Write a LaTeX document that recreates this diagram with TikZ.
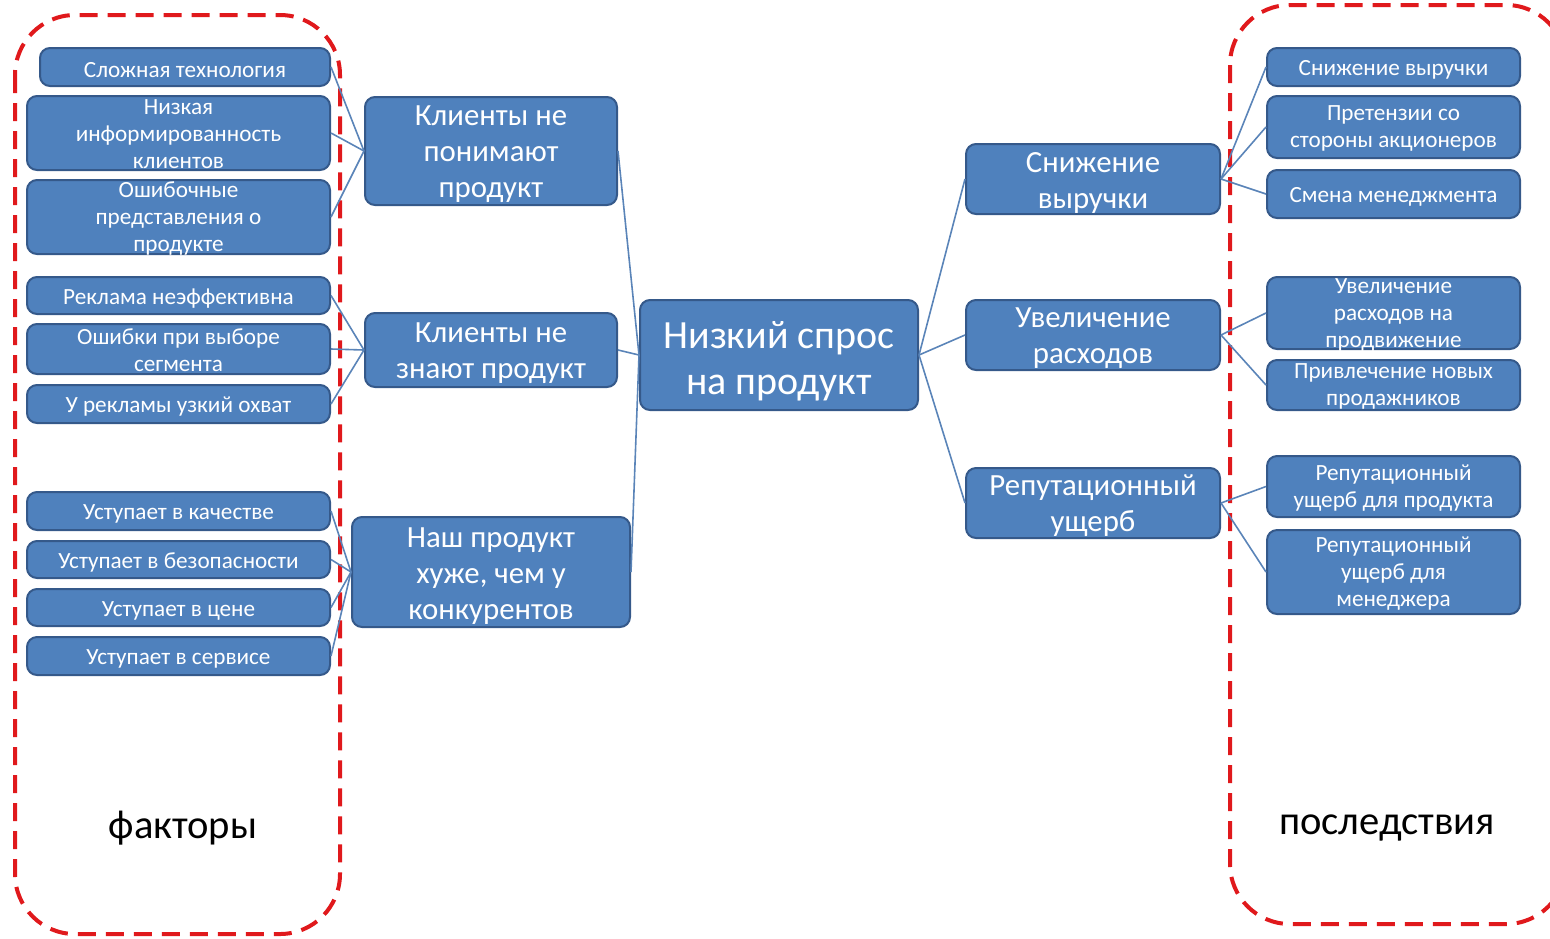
\documentclass[tikz,border=0pt]{standalone}
\usepackage{fontspec}
\setmainfont{Carlito}
\definecolor{boxfill}{HTML}{4F81BD}
\definecolor{boxline}{HTML}{35598A}
\definecolor{linkc}{HTML}{5A84B8}
\definecolor{framered}{HTML}{E0191C}
\newcommand\sts{\rule{0pt}{10.7pt}}
\newcommand\stt{\rule{0pt}{9pt}}
\newcommand\stm{\rule{0pt}{13.5pt}}
\newcommand\stb{\rule{0pt}{19.5pt}}
\tikzset{
  blk/.style={draw=boxline, fill=boxfill, rounded corners=5pt, line width=1pt, text=white, align=center, inner xsep=0pt, inner ysep=-8pt},
  sm/.style={blk, font=\fontsize{11.6}{13.5}\selectfont},
  md/.style={blk, font=\fontsize{15.4}{18}\selectfont},
  big/.style={blk, font=\fontsize{20}{23}\selectfont},
  sz/.style 2 args={minimum width=#1*0.5pt, minimum height=#2*0.5pt},
  link/.style={draw=linkc, line width=0.8pt},
  frm/.style={draw=framered, line width=2pt, dash pattern=on 9pt off 5pt, rounded corners=30pt},
  lbl/.style={font=\fontsize{20.3}{24}\selectfont, text=black},
}
\begin{document}
\begin{tikzpicture}[x=0.5pt,y=-0.5pt]
\useasboundingbox (0,0) rectangle (1550,938);
\begin{scope}
\clip (0,0) rectangle (1550,938);
\draw[frm] (15,15) rectangle (340,934);
\draw[frm] (1230,5) rectangle (1566,924);
\end{scope}
\node[lbl] (fk) at (183,828) {факторы};
\node[lbl] (ps) at (1387,828) {последствия};

% left small boxes
\node[sm, sz={290}{38}] (s1) at (185,67) {\sts Сложная технология};
\node[sm, sz={303}{74}] (s2) at (178.5,133) {\stt Низкая\\информированность\\клиентов};
\node[sm, sz={303}{74}] (s3) at (178.5,217) {\stt Ошибочные\\представления о\\продукте};
\node[sm, sz={303}{37}] (s4) at (178.5,295.5) {\sts Реклама неэффективна};
\node[sm, sz={303}{50}] (s5) at (178.5,349) {\stt Ошибки при выборе\\сегмента};
\node[sm, sz={303}{38}] (s6) at (178.5,404) {\sts У рекламы узкий охват};
\node[sm, sz={303}{38}] (s7) at (178.5,511) {\sts Уступает в качестве};
\node[sm, sz={303}{37}] (s8) at (178.5,559.5) {\sts Уступает в безопасности};
\node[sm, sz={303}{37}] (s9) at (178.5,607.5) {\sts Уступает в цене};
\node[sm, sz={303}{38}] (s10) at (178.5,656) {\sts Уступает в сервисе};

% middle left
\node[md, sz={252}{108}] (a) at (491,151) {\stm Клиенты не\\понимают\\продукт};
\node[md, sz={252}{74}] (b) at (491,350) {\stm Клиенты не\\знают продукт};
\node[md, sz={278}{110}] (c) at (491,572) {\stm Наш продукт\\хуже, чем у\\конкурентов};

% center
\node[big, sz={278}{110}] (z) at (779,355) {\stb Низкий спрос\\на продукт};

% middle right
\node[md, sz={254}{70}] (d) at (1093,179) {\stm Снижение\\выручки};
\node[md, sz={254}{70}] (e) at (1093,335) {\stm Увеличение\\расходов};
\node[md, sz={254}{70}] (f) at (1093,503) {\stm Репутационный\\ущерб};

% right small boxes
\node[sm, sz={253}{38}] (r1) at (1393.5,67) {\sts Снижение выручки};
\node[sm, sz={253}{62}] (r2) at (1393.5,127) {\stt Претензии со\\стороны акционеров};
\node[sm, sz={253}{48}] (r3) at (1393.5,194) {\sts Смена менеджмента};
\node[sm, sz={253}{72}] (r4) at (1393.5,313) {\stt Увеличение\\расходов на\\продвижение};
\node[sm, sz={253}{50}] (r5) at (1393.5,385) {\stt Привлечение новых\\продажников};
\node[sm, sz={253}{61}] (r6) at (1393.5,486.5) {\stt Репутационный\\ущерб для продукта};
\node[sm, sz={253}{84}] (r7) at (1393.5,572) {\stt Репутационный\\ущерб для\\менеджера};

% connectors
\foreach \s in {s1,s2,s3} \draw[link] (\s.east) -- (a.west);
\foreach \s in {s4,s5,s6} \draw[link] (\s.east) -- (b.west);
\foreach \s in {s7,s8,s9,s10} \draw[link] (\s.east) -- (c.west);
\foreach \s in {a,b,c} \draw[link] (\s.east) -- (z.west);
\foreach \s in {d,e,f} \draw[link] (z.east) -- (\s.west);
\foreach \s in {r1,r2,r3} \draw[link] (d.east) -- (\s.west);
\foreach \s in {r4,r5} \draw[link] (e.east) -- (\s.west);
\foreach \s in {r6,r7} \draw[link] (f.east) -- (\s.west);
\end{tikzpicture}
\end{document}
